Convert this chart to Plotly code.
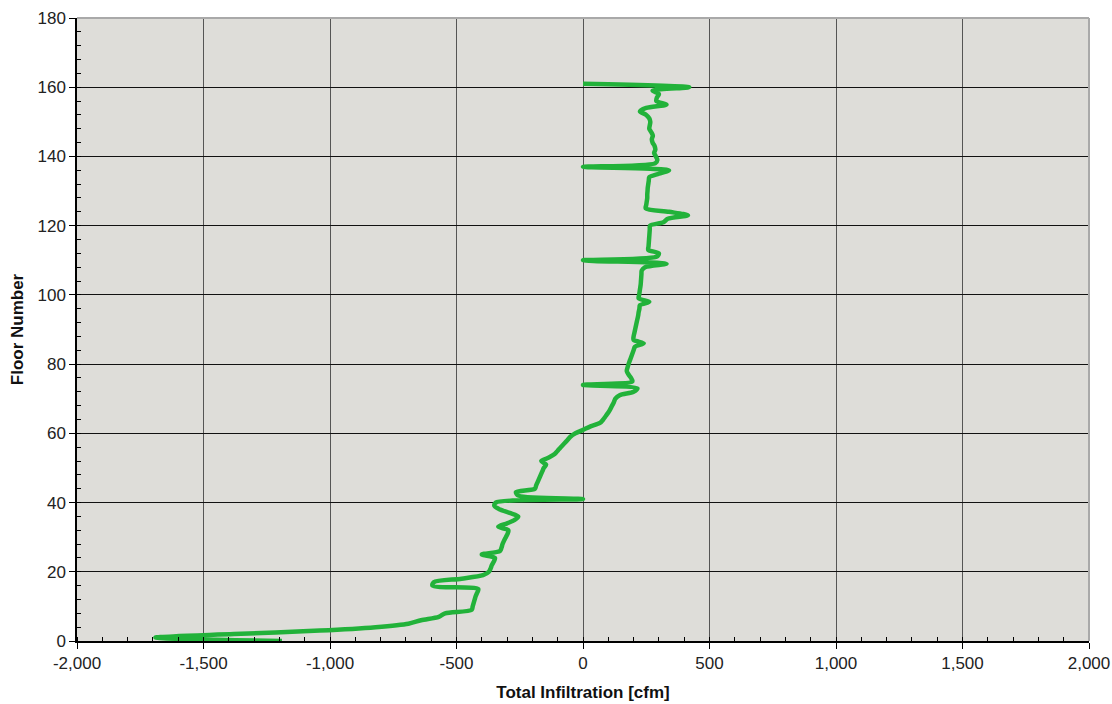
import plotly.graph_objects as go

# Floor numbers and total infiltration per floor [cfm]
floors = list(range(0, 162))
infiltration = [
    -1190, -1690, -1380, -1040, -820, -690, -640, -570, -545, -440,   # 0-9
    -436, -432, -428, -424, -418, -414, -595, -590, -480, -395,       # 10-19
    -372, -365, -360, -352, -348, -400, -328, -322, -318, -312,       # 20-29
    -305, -298, -295, -335, -300, -270, -256, -290, -328, -350,       # 30-39
    -345, 0, -255, -265, -190, -185, -179, -173, -167, -161,          # 40-49
    -155, -146, -165, -135, -112, -100, -88, -75, -62, -50,           # 50-59
    -30, 0, 30, 67, 80, 90, 100, 108, 115, 122,                       # 60-69
    128, 145, 200, 215, 0, 195, 190, 180, 173, 176,                   # 70-79
    180, 185, 190, 195, 200, 205, 240, 200, 200, 203,                 # 80-89
    206, 209, 212, 215, 218, 220, 223, 225, 262, 220,                 # 90-99
    222, 224, 226, 228, 229, 230, 231, 232, 245, 330,                 # 100-109
    0, 290, 300, 258, 259, 260, 261, 262, 263, 264,                   # 110-119
    265, 318, 335, 415, 340, 248, 250, 252, 254, 254,                 # 120-129
    255, 256, 258, 260, 262, 300, 340, 0, 285, 294,                   # 130-139
    288, 281, 286, 283, 275, 272, 276, 270, 262, 264,                 # 140-149
    266, 262, 250, 225, 250, 330, 290, 292, 300, 275,                 # 150-159
    420, 0,                                                           # 160-161
]

x_ticks = [-2000, -1500, -1000, -500, 0, 500, 1000, 1500, 2000]
x_tick_labels = ["-2,000", "-1,500", "-1,000", "-500", "0", "500", "1,000", "1,500", "2,000"]
y_ticks = [0, 20, 40, 60, 80, 100, 120, 140, 160, 180]

fig = go.Figure()
fig.add_trace(go.Scatter(
    x=infiltration,
    y=floors,
    mode="lines",
    line=dict(color="#22B23A", width=4.5, shape="spline", smoothing=0.8),
    showlegend=False,
    hoverinfo="x+y",
))

tick_font = dict(family="Liberation Sans, Arial, sans-serif", size=17, color="#222")
title_font = dict(family="Liberation Sans, Arial, sans-serif", size=17, color="#111")

fig.update_xaxes(
    range=[-2000, 2000],
    tickvals=x_ticks,
    ticktext=x_tick_labels,
    ticks="outside",
    ticklen=6,
    tickcolor="black",
    showline=True,
    linecolor="black",
    linewidth=1.5,
    showgrid=True,
    gridcolor="#555555",
    gridwidth=1,
    zeroline=False,
    tickfont=tick_font,
    automargin=False,
    minor=dict(dtick=100, ticks="inside", ticklen=4, tickcolor="black", showgrid=False),
    title=dict(text="<b>Total Infiltration [cfm]</b>", font=title_font, standoff=14),
)
fig.update_yaxes(
    range=[0, 180],
    tickvals=y_ticks,
    ticks="outside",
    ticklen=6,
    tickcolor="black",
    showline=True,
    linecolor="black",
    linewidth=1.5,
    showgrid=True,
    gridcolor="#111111",
    gridwidth=1,
    zeroline=False,
    tickfont=tick_font,
    automargin=False,
    minor=dict(dtick=4, ticks="inside", ticklen=4, tickcolor="black", showgrid=False),
    title=dict(text="<b>Floor Number</b>", font=title_font, standoff=10),
)

# Gray frame along the top and right edges of the plotting area
fig.add_shape(type="line", xref="paper", yref="paper", x0=0, x1=1, y0=1, y1=1,
              line=dict(color="#A9A9A9", width=2))
fig.add_shape(type="line", xref="paper", yref="paper", x0=1, x1=1, y0=0, y1=1,
              line=dict(color="#A9A9A9", width=2))

fig.update_layout(
    width=1112,
    height=704,
    margin=dict(l=77, r=23, t=18, b=63),
    paper_bgcolor="white",
    plot_bgcolor="#DEDDD9",
)

fig.write_html("out.html")
